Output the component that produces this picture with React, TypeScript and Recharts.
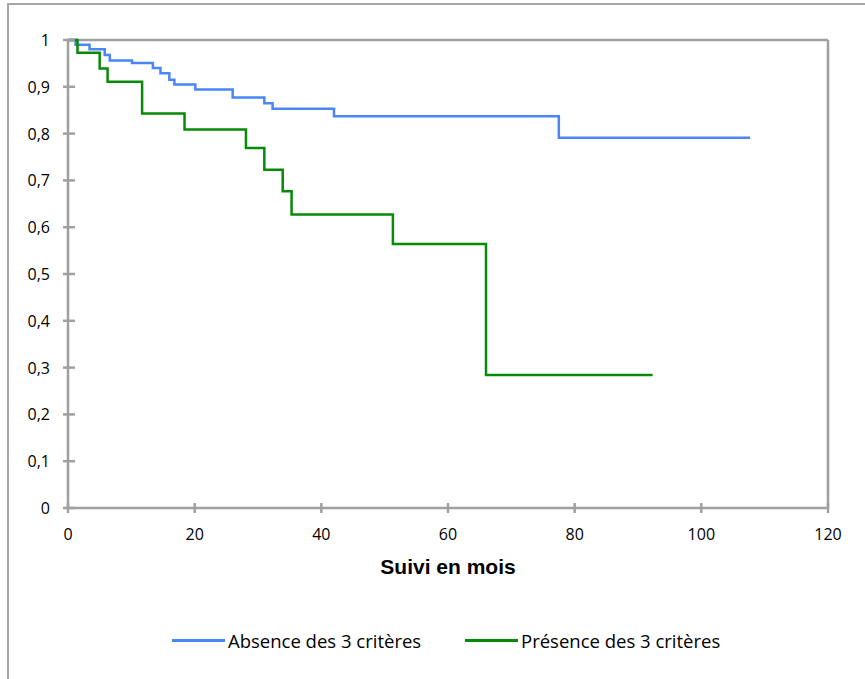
import React from "react";
import { LineChart, Line, XAxis, YAxis, ReferenceLine } from "recharts";

// Kaplan-Meier steps (months, survival)
const absenceMonths = [0, 1.2, 3.4, 5.8, 6.6, 10.1, 13.4, 14.6, 16.0, 16.8, 20.1, 26.0, 31.0, 32.3, 42.0, 77.5, 107.7];
const absenceSurvival = [1, 0.99, 0.98, 0.968, 0.956, 0.951, 0.94, 0.929, 0.915, 0.905, 0.894, 0.877, 0.865, 0.853, 0.837, 0.791, 0.791];

const presenceMonths = [0, 1.5, 5.0, 6.25, 11.7, 18.4, 28.1, 31.0, 33.9, 35.3, 51.3, 66.0, 92.3];
const presenceSurvival = [1, 0.973, 0.939, 0.911, 0.843, 0.809, 0.769, 0.723, 0.677, 0.627, 0.564, 0.284, 0.284];

const xTicks = [0, 20, 40, 60, 80, 100, 120];
const yTicks = [0, 0.1, 0.2, 0.3, 0.4, 0.5, 0.6, 0.7, 0.8, 0.9, 1];

const seriesNames = ["Absence des 3 critères", "Présence des 3 critères"];
const seriesColors = ["#4a86f8", "#078a07"];

const absenceData = absenceMonths.map((t, i) => ({ t, s: absenceSurvival[i] }));
const presenceData = presenceMonths.map((t, i) => ({ t, s: presenceSurvival[i] }));

const AXIS = "#a0a0a0";
const FONT = "'Open Sans', sans-serif";

const fmt = (v: number) => String(Math.round(v * 10) / 10).replace(".", ",");

const YTick = (props: any) => {
  const { x, y, payload } = props;
  return (
    <g>
      <line x1={x - 5} x2={x + 7} y1={y} y2={y} stroke={AXIS} strokeWidth={2.5} />
      <text x={x - 18} y={y} textAnchor="end" dominantBaseline="central" fontSize={16} fontFamily={FONT} fill="#000">
        {fmt(payload.value)}
      </text>
    </g>
  );
};

const XTick = (props: any) => {
  const { x, y, payload } = props;
  return (
    <g>
      <line x1={x} x2={x} y1={y - 5} y2={y + 5} stroke={AXIS} strokeWidth={2.5} />
      <text x={x} y={y + 26} textAnchor="middle" dominantBaseline="central" fontSize={16} fontFamily={FONT} fill="#000">
        {payload.value}
      </text>
    </g>
  );
};

const XTitle = (props: any) => {
  const vb = props.viewBox;
  return (
    <text
      x={vb.x + vb.width / 2}
      y={vb.y + 58}
      textAnchor="middle"
      dominantBaseline="central"
      fontSize={21}
      fontWeight="bold"
      fontFamily="'Liberation Sans', Arial, sans-serif"
      fill="#000"
    >
      Suivi en mois
    </text>
  );
};

const LegendItem = ({ left, color, label }: { left: number; color: string; label: string }) => (
  <div style={{ position: "absolute", left, top: 627, display: "flex", alignItems: "center", height: 26 }}>
    <div style={{ width: 53, height: 3, background: color, marginRight: 3 }} />
    <span style={{ fontFamily: FONT, fontSize: 18.5, color: "#000", whiteSpace: "nowrap" }}>{label}</span>
  </div>
);

export default function App() {
  return (
    <div style={{ position: "absolute", left: 0, top: 0, width: 865, height: 679, overflow: "hidden", background: "#fff" }}>
      <div
        style={{
          position: "absolute",
          left: 7,
          top: 3,
          width: 920,
          height: 720,
          border: "2px solid #a6a6a6",
          boxSizing: "border-box",
        }}
      />
      <LineChart width={865} height={679} margin={{ top: 40, right: 37, left: 8, bottom: 101 }}>
        <XAxis
          dataKey="t"
          type="number"
          domain={[0, 120]}
          ticks={xTicks}
          height={70}
          tickSize={0}
          tickMargin={0}
          tick={<XTick />}
          axisLine={{ stroke: AXIS, strokeWidth: 2.5 }}
          label={<XTitle />}
        />
        <YAxis
          type="number"
          domain={[0, 1]}
          ticks={yTicks}
          width={60}
          tickSize={0}
          tickMargin={0}
          tick={<YTick />}
          axisLine={{ stroke: AXIS, strokeWidth: 2.5 }}
        />
        <ReferenceLine y={1} stroke={AXIS} strokeWidth={2.5} />
        <ReferenceLine x={120} stroke={AXIS} strokeWidth={2.5} />
        <Line
          data={absenceData}
          dataKey="s"
          name={seriesNames[0]}
          type="stepAfter"
          stroke={seriesColors[0]}
          strokeWidth={2.5}
          dot={false}
          isAnimationActive={false}
        />
        <Line
          data={presenceData}
          dataKey="s"
          name={seriesNames[1]}
          type="stepAfter"
          stroke={seriesColors[1]}
          strokeWidth={2.5}
          dot={false}
          isAnimationActive={false}
        />
      </LineChart>
      <LegendItem left={172} color={seriesColors[0]} label={seriesNames[0]} />
      <LegendItem left={465} color={seriesColors[1]} label={seriesNames[1]} />
    </div>
  );
}
